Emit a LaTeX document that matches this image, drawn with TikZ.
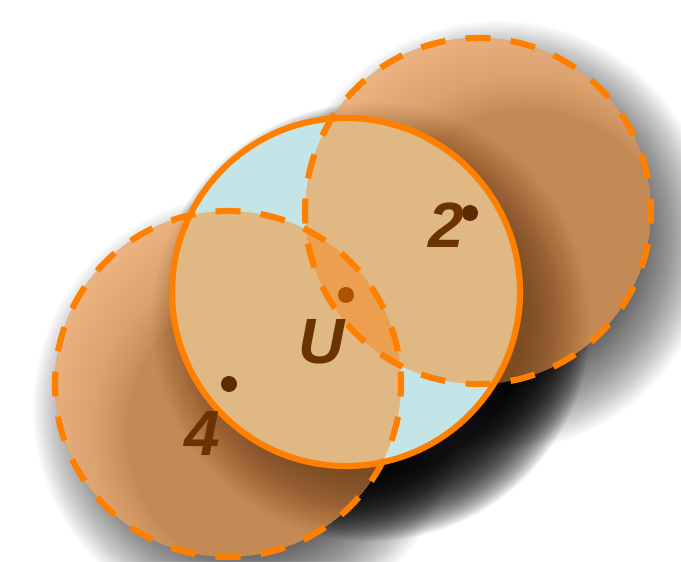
\documentclass[tikz,border=0pt]{standalone}
\usepackage{fontspec}
\setmainfont{Liberation Sans}
\definecolor{bmid}{HTML}{C48A55}
\definecolor{blight}{HTML}{FAC290}
\definecolor{cblue}{HTML}{C4E5E8}
\definecolor{ctan}{HTML}{E0B884}
\definecolor{clens}{HTML}{EC9F4E}
\definecolor{corange}{HTML}{FF8000}
\definecolor{ctext}{HTML}{6B3300}
\definecolor{cdot}{HTML}{5E2B00}
\definecolor{cdotmid}{HTML}{AE5200}
\definecolor{sdark}{HTML}{4A2000}
\tikzset{
  ostroke/.style={draw=corange, line width=4.6pt},
  dashring/.style={ostroke, dash pattern=on 18.75pt off 15.22pt, dash phase=9.375pt},
  lab/.style={inner sep=0pt, text=ctext, font=\fontsize{48}{48}\selectfont\bfseries\itshape},
  dotbig/.style={circle, inner sep=0pt, minimum size=12pt, fill=cdot},
  rimlayer/.style={fill=blight, fill opacity=0.06, even odd rule},
}
\begin{document}
\begin{tikzpicture}[x=0.75pt,y=0.75pt]
\useasboundingbox (0,0) rectangle (681,561);
\fill[white] (0,0) rectangle (681,561);
% soft drop shadows (stacked translucent discs)
\foreach \i in {0,...,39} {
  \fill[black, fill opacity=0.0198] (498,325) circle ({143+72*\i/39});
  \fill[black, fill opacity=0.0198] (248,152) circle ({143+72*\i/39});
}
\foreach \i in {0,...,39} {
  \fill[black, fill opacity=0.0559] (371,239) circle ({154+65*\i/39});
}
% dashed discs with light upper-left rim
\begin{scope}
  \clip (478,350) circle (173);
  \fill[bmid] (478,350) circle (173);
  \foreach \i in {0,...,29} {\fill[rimlayer] (478,350) circle (180) (526,302) circle ({150+92*\i/29});}
\end{scope}
\begin{scope}
  \clip (228,177) circle (173);
  \fill[bmid] (228,177) circle (173);
  \foreach \i in {0,...,29} {\fill[rimlayer] (228,177) circle (180) (276,129) circle ({150+92*\i/29});}
\end{scope}
% shadow of central disc cast on dashed discs
\begin{scope}
  \clip (478,350) circle (173);
  \foreach \i in {0,...,39} {\fill[sdark, fill opacity=0.0172] (371,239) circle ({154+65*\i/39});}
\end{scope}
\begin{scope}
  \clip (228,177) circle (173);
  \foreach \i in {0,...,39} {\fill[sdark, fill opacity=0.0172] (371,239) circle ({154+65*\i/39});}
\end{scope}
% central disc
\fill[cblue] (346,269) circle (174);
\begin{scope}
  \clip (346,269) circle (174);
  \fill[ctan] (478,350) circle (173);
  \fill[ctan] (228,177) circle (173);
\end{scope}
\begin{scope}
  \clip (478,350) circle (173);
  \clip (228,177) circle (173);
  \fill[clens] (346,269) circle (174);
\end{scope}
% outlines
\draw[ostroke] (346,269) circle (174);
\draw[dashring] (478,350) circle (173);
\draw[dashring] (228,177) circle (173);
% dots and labels
\node[dotbig] (d2) at (470,348) {};
\node[dotbig] (d4) at (229,177) {};
\node[dotbig, fill=cdotmid] (dU) at (346,266) {};
\node[lab] (l2) at (446,336) {2};
\node[lab] (l4) at (202,128) {4};
\node[lab] (lU) at (322,219) {U};
\end{tikzpicture}
\end{document}
